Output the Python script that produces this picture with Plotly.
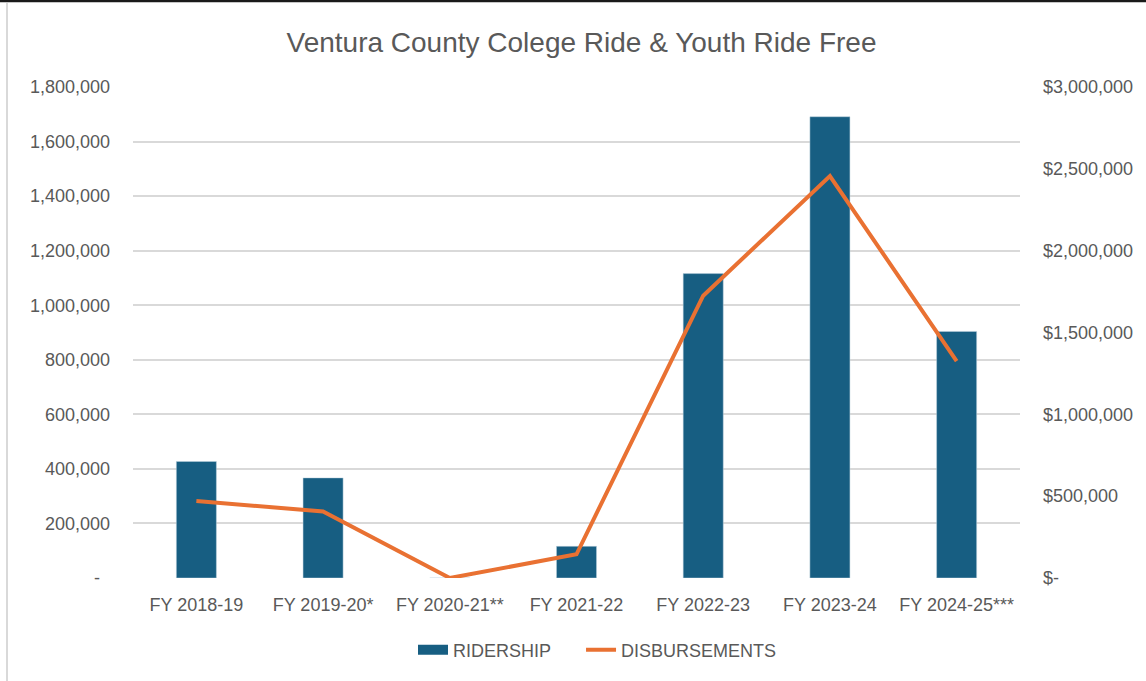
import plotly.graph_objects as go

categories = ["FY 2018-19", "FY 2019-20*", "FY 2020-21**", "FY 2021-22",
              "FY 2022-23", "FY 2023-24", "FY 2024-25***"]
ridership = [427000, 367000, 0, 116000, 1116000, 1691000, 904000]
disbursements = [470000, 407000, 0, 145000, 1725000, 2456000, 1325000]

left_ticks = [0, 200000, 400000, 600000, 800000, 1000000, 1200000, 1400000, 1600000, 1800000]
left_text = ["-\u00a0\u00a0"] + [f"{v:,}" for v in left_ticks[1:]]
right_ticks = [0, 500000, 1000000, 1500000, 2000000, 2500000, 3000000]
right_text = ["$-"] + [f"${v:,}" for v in right_ticks[1:]]

W, H = 1146, 681
L, R, T, B = 133, 126, 87, 103
pw, ph = W - L - R, H - T - B

font = "Liberation Sans, Arial, sans-serif"
txt = "#595959"
blue = "#175E82"
orange = "#E97132"

fig = go.Figure()
fig.add_trace(go.Bar(x=categories, y=ridership, name="RIDERSHIP",
                     marker=dict(color=blue, line=dict(color="#BFD3DE", width=0.5)),
                     yaxis="y", showlegend=False))
# legend stand-in for the bar series (wide rectangle swatch)
fig.add_trace(go.Scatter(x=[None], y=[None], name="RIDERSHIP" + "\u00a0" * 5, mode="lines",
                         line=dict(color=blue, width=13), yaxis="y"))
fig.add_trace(go.Scatter(x=categories, y=disbursements, name="DISBURSEMENTS",
                         mode="lines", line=dict(color=orange, width=4),
                         yaxis="y2"))

fig.update_layout(
    width=W, height=H,
    margin=dict(l=L, r=R, t=T, b=B),
    paper_bgcolor="white", plot_bgcolor="white",
    font=dict(family=font, size=18, color=txt),
    title=dict(text="Ventura County Colege Ride & Youth Ride Free",
               x=(581.5 - L) / pw, xanchor="center", xref="paper",
               y=1 - 42 / H, yanchor="middle",
               font=dict(size=28, color=txt, family=font)),
    bargap=0.684,
    showlegend=True,
    legend=dict(orientation="h", x=(413 - L) / pw, xanchor="left",
                y=(ph - (650 - T)) / ph, yanchor="middle",
                font=dict(size=18, color=txt),
                traceorder="normal"),
    xaxis=dict(showgrid=False, showline=False, ticks="", tickfont=dict(size=18, color=txt),
               ticklabelstandoff=14),
    yaxis=dict(range=[0, 1800000], tickvals=left_ticks, ticktext=left_text,
               showgrid=True, gridcolor="#D9D9D9", gridwidth=1.5, zeroline=False,
               showline=False, ticks="", tickfont=dict(size=18, color=txt),
               ticklabelstandoff=22),
    yaxis2=dict(range=[0, 3000000], tickvals=right_ticks, ticktext=right_text,
                overlaying="y", side="right", showgrid=False, zeroline=False,
                showline=False, ticks="", tickfont=dict(size=18, color=txt),
                ticklabelstandoff=22),
    shapes=[
        dict(type="line", xref="paper", yref="paper",
             x0=(7 - L) / pw, x1=(7 - L) / pw,
             y0=(ph + T - 3) / ph, y1=-(B + 2) / ph,
             line=dict(color="#D9D9D9", width=2)),
        dict(type="line", xref="paper", yref="paper",
             x0=-L / pw - 0.05, x1=(W - L) / pw + 0.05, y0=(ph + T - 1) / ph, y1=(ph + T - 1) / ph,
             line=dict(color="#1A1A1A", width=2.5)),
    ],
)

fig.write_html("out.html", config={"displayModeBar": False},
               post_script="document.body.style.margin='0';")
